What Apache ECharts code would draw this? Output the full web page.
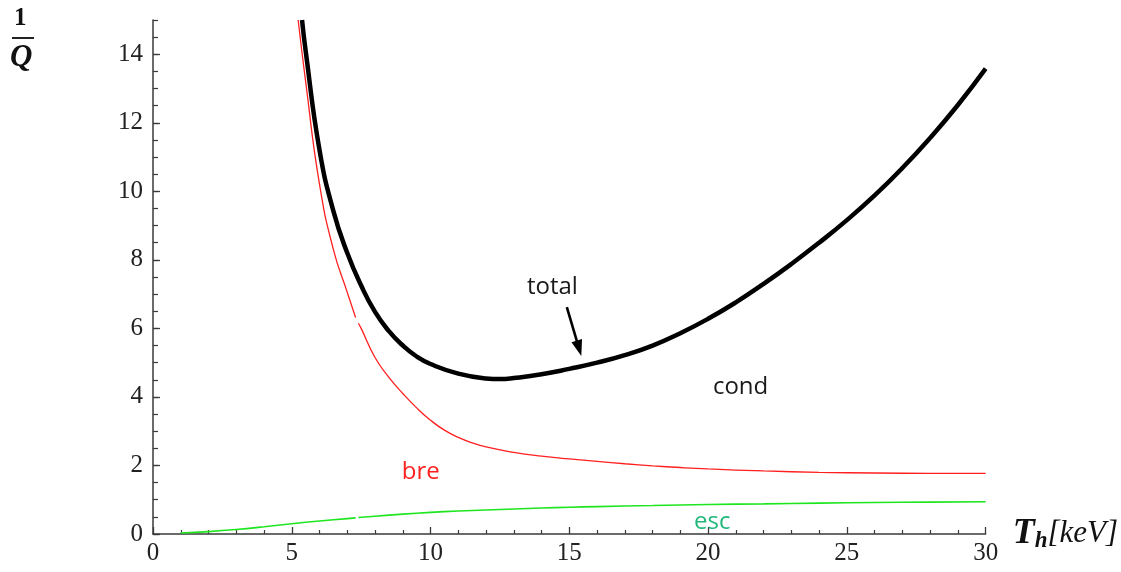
<!DOCTYPE html>
<html>
<head>
<meta charset="utf-8">
<script src="https://cdn.jsdelivr.net/npm/echarts@6/dist/echarts.min.js"></script>
<style>
  html, body { margin: 0; padding: 0; background: #fff; }
  #chart { width: 1121px; height: 572px; }
</style>
</head>
<body>
<div id="chart"></div>
<script>
// ---- data ----
const totalX = [5.37, 5.5, 6, 6.5, 7, 7.5, 8, 8.5, 9, 9.5, 10, 11, 12, 12.5, 13, 14, 15, 16, 17, 18, 19, 20, 21, 22, 23, 24, 25, 26, 27, 28, 29, 30];
const totalY = [15.0, 14.1, 11.2, 9.42, 8.2, 7.25, 6.48, 5.92, 5.5, 5.18, 4.96, 4.68, 4.54, 4.52, 4.55, 4.66, 4.82, 5.0, 5.22, 5.5, 5.86, 6.28, 6.76, 7.3, 7.88, 8.5, 9.16, 9.88, 10.68, 11.56, 12.52, 13.58];

const breX = [5.23, 5.5, 6, 6.5, 7, 7.3, 7.35, 7.4, 7.5, 8, 8.5, 9, 9.5, 10, 10.5, 11, 11.5, 12, 13, 14, 15, 16, 17, 18, 19, 20, 22, 24, 26, 28, 30];
const breY = [15.0, 13.2, 10.2, 8.3, 7.05, 6.32, null, 6.15, 6.0, 5.15, 4.57, 4.1, 3.68, 3.32, 3.03, 2.82, 2.66, 2.54, 2.38, 2.27, 2.19, 2.12, 2.05, 1.99, 1.94, 1.9, 1.84, 1.8, 1.78, 1.77, 1.77];

const escX = [1, 2, 3, 4, 5, 6, 7, 7.3, 7.35, 7.4, 8, 9, 10, 11, 12, 13, 14, 15, 16, 18, 20, 22, 24, 26, 28, 30];
const escY = [0.03, 0.07, 0.13, 0.21, 0.3, 0.38, 0.45, 0.47, null, 0.48, 0.52, 0.58, 0.63, 0.67, 0.70, 0.73, 0.76, 0.78, 0.8, 0.83, 0.86, 0.88, 0.9, 0.92, 0.93, 0.94];

const annoText = ['total', 'cond', 'bre', 'esc'];
const annoX = [14.39, 21.17, 9.65, 20.15];
const annoY = [7.19, 4.28, 1.8, 0.36];
const annoColor = ['#1a1a1a', '#1a1a1a', '#ff2020', '#22b87a'];

const arrowFrom = [14.91, 6.62];
const arrowTo = [15.35, 5.42];

const xTickStep = 5;
const yTickStep = 2;
const yMinorStep = 0.5;

function pairs(xs, ys) {
  return xs.map((x, i) => [x, ys[i] === null ? '-' : ys[i]]);
}

const axisColor = '#3a3a3a';
const labelFont = { fontFamily: 'Liberation Serif', fontSize: 25, color: '#222' };

const fractionGraphics = [
  { type: 'text', left: 14, top: 6, style: { text: '1', font: 'bold 25px "Liberation Serif"', fill: '#111' } },
  { type: 'rect', left: 12, top: 37, shape: { width: 22, height: 2 }, style: { fill: '#222' } },
  { type: 'text', left: 10, top: 42, style: { text: 'Q', font: 'italic bold 31px "Liberation Serif"', fill: '#111' } }
];

const chart = echarts.init(document.getElementById('chart'), null, { renderer: 'canvas' });
chart.setOption({
  animation: false,
  backgroundColor: '#fff',
  grid: { left: 153, right: 135, top: 20, bottom: 38, containLabel: false },
  xAxis: [{
    type: 'value', min: 0, max: 30, interval: xTickStep, position: 'bottom',
    axisLine: { onZero: false, lineStyle: { color: axisColor, width: 1.5 } },
    axisTick: { inside: true, length: 7, lineStyle: { color: axisColor, width: 1.3 } },
    minorTick: { show: true, splitNumber: 5, length: 4, lineStyle: { color: axisColor, width: 1.2 } },
    splitLine: { show: false },
    axisLabel: Object.assign({ margin: 7 }, labelFont),
    name: '{T|T}{h|h}{b|[keV]}',
    nameLocation: 'end', nameGap: 27,
    nameTextStyle: {
      rich: {
        T: { fontFamily: 'Liberation Serif', fontWeight: 'bold', fontStyle: 'italic', fontSize: 36, color: '#111' },
        h: { fontFamily: 'Liberation Serif', fontWeight: 'bold', fontStyle: 'italic', fontSize: 23, color: '#111', padding: [14, 0, 0, 0] },
        b: { fontFamily: 'Liberation Serif', fontStyle: 'italic', fontSize: 31, color: '#111' }
      }
    }
  }],
  yAxis: [{
    type: 'value', min: 0, max: 15, interval: yTickStep, position: 'left',
    axisLine: { onZero: false, lineStyle: { color: axisColor, width: 1.5 } },
    axisTick: { inside: true, length: 7, lineStyle: { color: axisColor, width: 1.3 } },
    splitLine: { show: false },
    axisLabel: Object.assign({ margin: 10, showMaxLabel: false }, labelFont)
  }, {
    type: 'value', min: 0, max: 15, interval: yMinorStep, position: 'left',
    axisLine: { show: false, onZero: false },
    axisTick: { inside: true, length: 5, lineStyle: { color: axisColor, width: 1.2 } },
    splitLine: { show: false },
    axisLabel: { show: false }
  }],
  graphic: fractionGraphics,
  series: [
    {
      type: 'line', name: 'bre', data: pairs(breX, breY), smooth: 0.5,
      showSymbol: false, connectNulls: false,
      lineStyle: { color: '#ff1f1f', width: 1.3 }, z: 2
    },
    {
      type: 'line', name: 'esc', data: pairs(escX, escY), smooth: 0.5,
      showSymbol: false, connectNulls: false,
      lineStyle: { color: '#1ee61e', width: 1.6 }, z: 2
    },
    {
      type: 'line', name: 'total', data: pairs(totalX, totalY), smooth: 0.5,
      showSymbol: false,
      lineStyle: { color: '#000', width: 4.5 }, z: 3,
      markLine: {
        silent: true, symbol: ['none', 'triangle'], symbolSize: [11, 16],
        lineStyle: { color: '#000', width: 2.6, type: 'solid' },
        label: { show: false },
        data: [[{ coord: arrowFrom }, { coord: arrowTo }]]
      }
    }
  ]
});

// annotation texts placed through the chart's own coordinate system
const annoGraphics = annoText.map((t, i) => {
  const p = chart.convertToPixel({ gridIndex: 0 }, [annoX[i], annoY[i]]);
  return {
    type: 'text', x: p[0], y: p[1], z: 10,
    style: {
      text: t, fill: annoColor[i], font: '24px "Open Sans"',
      align: 'center', verticalAlign: 'middle'
    }
  };
});
chart.setOption({ graphic: fractionGraphics.concat(annoGraphics) }, { replaceMerge: ['graphic'] });
</script>
</body>
</html>
